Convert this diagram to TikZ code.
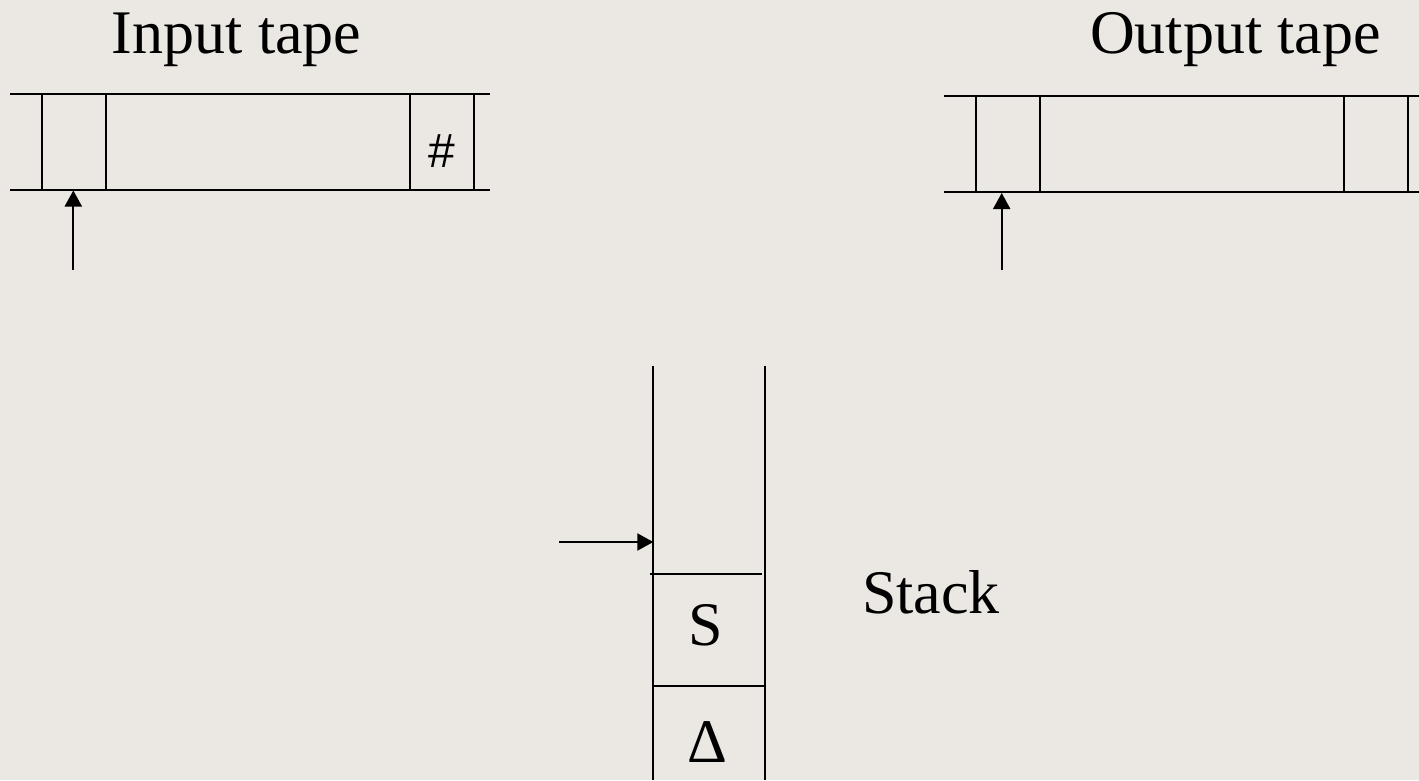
\documentclass[tikz,border=0pt]{standalone}
\usepackage{fontspec}
\setmainfont{Liberation Serif}
\newfontfamily\arialfont{Liberation Sans}
\usetikzlibrary{arrows.meta}
\definecolor{paper}{RGB}{235,231,227}
\tikzset{
  rule/.style={line width=2.1pt, black},
  ptr/.style={line width=2.1pt, -{Triangle[width=17pt,length=16pt]}},
  title/.style={font=\fontsize{62}{70}\selectfont, anchor=base, inner sep=0pt},
  cellsym/.style={font=\fontsize{62}{70}\selectfont, anchor=base, inner sep=0pt},
  smallsym/.style={font=\arialfont\fontsize{48}{52}\selectfont, anchor=base, inner sep=0pt}
}
\begin{document}
\begin{tikzpicture}[x=1pt, y=-1pt]
  % page
  \fill[paper] (0,0) rectangle (1419,780);
  \useasboundingbox (0,0) rectangle (1419,780);

  % ---- input tape ----
  \node[title] (inLabel) at (236.5,53) {Input tape};
  \draw[rule] (10,93.7) -- (490,93.7);
  \draw[rule] (10,189.7) -- (490,189.7);
  \foreach \x in {41.7,106,410,473.7}
    \draw[rule] (\x,93.7) -- (\x,189.7);
  \node[smallsym] (endMark) at (442,167) {\#};
  \coordinate (inTail) at (73.3,270);
  \coordinate (inHead) at (73.3,190.5);
  \draw[ptr] (inTail) -- (inHead);

  % ---- output tape ----
  \node[title] (outLabel) at (1235.5,53) {Output tape};
  \draw[rule] (944,96) -- (1419,96);
  \draw[rule] (944,192.3) -- (1419,192.3);
  \foreach \x in {975.7,1039.7,1343.7,1408}
    \draw[rule] (\x,96) -- (\x,192.3);
  \coordinate (outTail) at (1001.7,270);
  \coordinate (outHead) at (1001.7,193);
  \draw[ptr] (outTail) -- (outHead);

  % ---- stack ----
  \draw[rule] (653.3,366) -- (653.3,780);
  \draw[rule] (765.3,366) -- (765.3,780);
  \draw[rule] (650,573.7) -- (762,573.7);
  \draw[rule] (653.3,685.7) -- (765.3,685.7);
  \node[cellsym] (topSym) at (706,645) {S};
  \node[cellsym] (bottomSym) at (707.5,762) {Δ};
  \node[title, anchor=base west] (stackLabel) at (862,613) {Stack};
  \coordinate (spTail) at (559,542);
  \coordinate (spHead) at (653.3,542);
  \draw[ptr] (spTail) -- (spHead);
\end{tikzpicture}
\end{document}
